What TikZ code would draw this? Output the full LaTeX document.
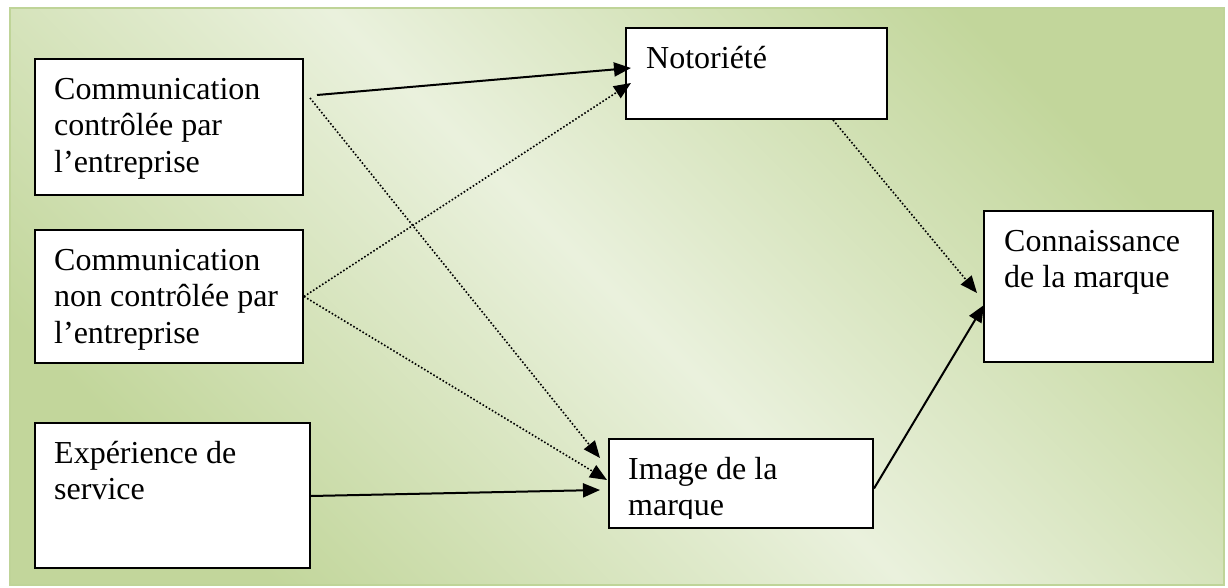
\documentclass[tikz,border=0pt]{standalone}
\usepackage{fontspec}
\setmainfont{Liberation Serif}
\usetikzlibrary{arrows.meta}
\definecolor{olivedark}{HTML}{C2D69B}
\definecolor{olivelight}{HTML}{EAF1DD}
\definecolor{frameline}{HTML}{BFD498}
\begin{document}
\begin{tikzpicture}[x=1bp,y=-1bp,
  box/.style={draw=black, line width=2bp, fill=white, anchor=north west, inner sep=0pt},
  boxtext/.style={anchor=north west, inner sep=0pt, align=left,
    font=\fontsize{32bp}{36.5bp}\selectfont},
  plain link/.style={line width=2bp, -{Triangle[length=17bp,width=14bp]}},
  dotted link/.style={line width=1.6bp, dash pattern=on 1.6bp off 2bp,
    -{Triangle[length=17bp,width=14bp]}}]

\useasboundingbox (0,0) rectangle (1228,588);

% background panel with diagonal gradient
\shade[left color=olivedark, right color=olivedark, middle color=olivelight,
  shading angle=-45] (10,8) rectangle (1224,585);
\draw[frameline, line width=2.5bp] (10,8) rectangle (1224,585);

% boxes
\node[box, minimum width=268bp, minimum height=136bp] (ca) at (34,58) {};
\node[box, minimum width=268bp, minimum height=133bp] (cb) at (34,229) {};
\node[box, minimum width=275bp, minimum height=145bp] (ce) at (34,422) {};
\node[box, minimum width=261bp, minimum height=91bp]  (no) at (625,27) {};
\node[box, minimum width=264bp, minimum height=89bp]  (im) at (608,438) {};
\node[box, minimum width=229bp, minimum height=151bp] (kn) at (983,210) {};

% box texts
\node[boxtext] (ca-t) at ([xshift=20bp,yshift=-15.5bp]ca.north west)
  {\strut Communication\\contrôlée par\\l’entreprise};
\node[boxtext] (cb-t) at ([xshift=20bp,yshift=-15.5bp]cb.north west)
  {\strut Communication\\non contrôlée par\\l’entreprise};
\node[boxtext] (ce-t) at ([xshift=20bp,yshift=-15.5bp]ce.north west)
  {\strut Expérience de\\service};
\node[boxtext] (no-t) at ([xshift=21bp,yshift=-15.5bp]no.north west)
  {\strut Notoriété};
\begin{scope}
  \clip (im.north west) rectangle ([yshift=11bp]im.south east);
  \node[boxtext] (im-t) at ([xshift=20bp,yshift=-15.5bp]im.north west)
    {\strut Image de la\\marque};
\end{scope}
\node[boxtext] (kn-t) at ([xshift=21bp,yshift=-15.5bp]kn.north west)
  {\strut Connaissance\\de la marque};

% links
\draw[plain link] ([xshift=13bp,yshift=-37bp]ca.north east)
  -- ([xshift=6bp,yshift=-41bp]no.north west);
\draw[dotted link] ([xshift=6bp,yshift=-40bp]ca.north east)
  -- ([xshift=-8bp,yshift=-20bp]im.north west);
\draw[dotted link] (cb.east) -- ([xshift=6bp,yshift=-56bp]no.north west);
\draw[dotted link] (cb.east) -- ([xshift=-1bp,yshift=-42bp]im.north west);
\draw[plain link] ([yshift=-74bp]ce.north east)
  -- ([xshift=-8bp,yshift=-52bp]im.north west);
\draw[plain link] ([yshift=-5bp]im.east)
  -- ([xshift=1bp,yshift=-95bp]kn.north west);
\draw[dotted link] ([xshift=208bp]no.south west)
  -- ([xshift=-6bp,yshift=-83bp]kn.north west);
\end{tikzpicture}
\end{document}
